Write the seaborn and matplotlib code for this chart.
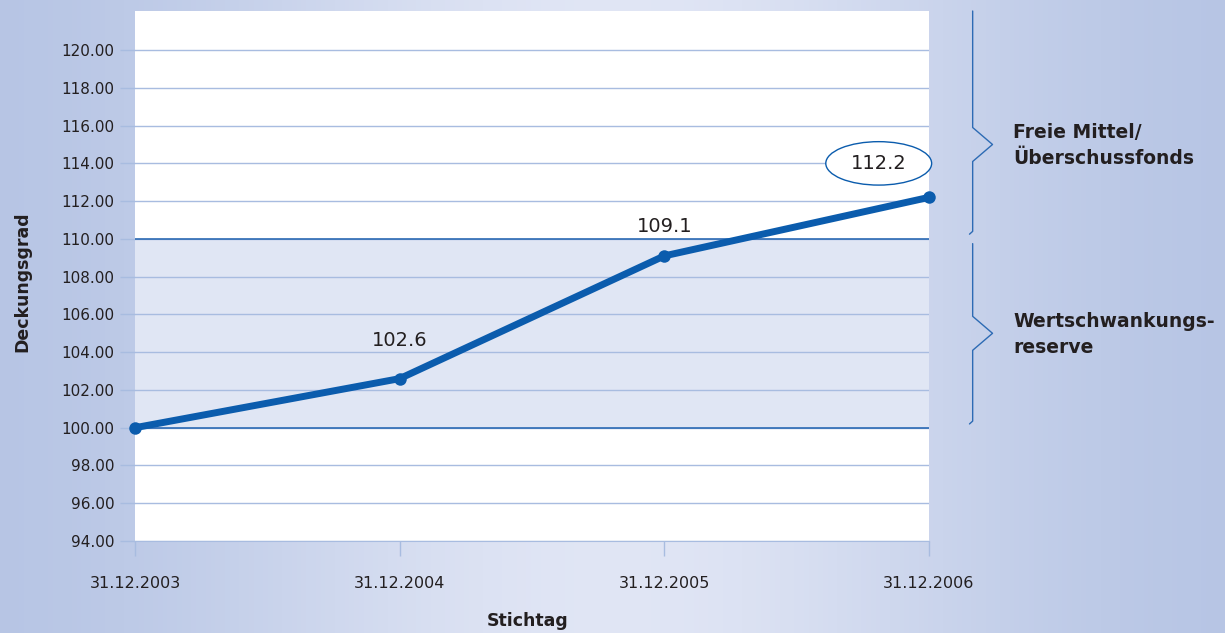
import numpy as np
import pandas as pd
import matplotlib.pyplot as plt
import matplotlib.transforms as mtransforms
from matplotlib.patches import Ellipse
import seaborn as sns

# -------------------
# Data
# -------------------
stichtage = ["31.12.2003", "31.12.2004", "31.12.2005", "31.12.2006"]
deckungsgrad = [100.0, 102.6, 109.1, 112.2]
y_ticks = [94, 96, 98, 100, 102, 104, 106, 108, 110, 112, 114, 116, 118, 120]
reserve_band = [100, 110]
band_labels = ["Freie Mittel/\nÜberschussfonds", "Wertschwankungs-\nreserve"]

df = pd.DataFrame({"pos": range(len(stichtage)), "stichtag": stichtage, "wert": deckungsgrad})

# -------------------
# Style
# -------------------
sns.set_style("white")
plt.rcParams["font.family"] = ["DejaVu Sans"]

LINE_BLUE = "#0b5cad"
GRID_BLUE = "#a8bce0"
BAND_FILL = "#e0e6f4"
BAND_EDGE = "#2d6bb4"
TEXT = "#231f20"

fig = plt.figure(figsize=(12.25, 6.33), dpi=100)

# background gradient (dark - light - dark)
bg = fig.add_axes([0, 0, 1, 1], zorder=-10)
t = np.linspace(0, 1, 256)
shade = np.exp(-((t - 0.5) / 0.33) ** 2)
left = np.array([0.70, 0.76, 0.89])
mid = np.array([0.88, 0.90, 0.96])
grad = left[None, :] + (mid - left)[None, :] * shade[:, None]
bg.imshow(grad[None, :, :], aspect="auto", extent=[0, 1, 0, 1])
bg.set_axis_off()

ax = fig.add_axes([135 / 1225, 92 / 633, 794 / 1225, 530 / 633])
ax.set_facecolor("white")

ax.axhspan(reserve_band[0], reserve_band[1], color=BAND_FILL, zorder=0, lw=0)
for yv in y_ticks:
    ax.axhline(yv, color=GRID_BLUE, lw=1.0, zorder=1)
for yv in reserve_band:
    ax.axhline(yv, color=BAND_EDGE, lw=1.2, zorder=2)

sns.lineplot(data=df, x="pos", y="wert", ax=ax, color=LINE_BLUE, lw=5,
             marker="o", markersize=9, markeredgewidth=0, zorder=5, clip_on=False)

ax.set_xlim(0, len(stichtage) - 1)
ax.set_ylim(94, 122.07)
ax.set_yticks(y_ticks)
ax.set_yticklabels([f"{v:.2f}" for v in y_ticks], fontsize=11, color=TEXT)
ax.set_xticks(df["pos"])
ax.set_xticklabels(stichtage, fontsize=11.5, color=TEXT)
ax.tick_params(axis="y", length=11, color=GRID_BLUE, width=1, pad=4, left=True)
ax.tick_params(axis="x", length=11, color=GRID_BLUE, width=1, pad=14, bottom=True)
for s in ["top", "right", "left"]:
    ax.spines[s].set_visible(False)
ax.spines["bottom"].set_color(GRID_BLUE)

ax.set_xlabel("Stichtag", fontsize=12.5, fontweight="bold", color=TEXT)
ax.set_ylabel("Deckungsgrad", fontsize=12.5, fontweight="bold", color=TEXT)
ax.xaxis.set_label_coords(0.5 - 0.005, -0.134)
ax.yaxis.set_label_coords(-0.13, 0.49)

# value labels
for i, (xv, yv) in enumerate(zip(df["pos"], df["wert"])):
    if i == 0:
        continue
    if i == len(df) - 1:
        ex, ey = xv - 0.19, yv + 1.8
        ax.add_patch(Ellipse((ex, ey), 0.40, 2.3, facecolor="white",
                             edgecolor=LINE_BLUE, lw=1.0, zorder=6, clip_on=False))
        ax.text(ex, ey, f"{yv:.1f}", ha="center", va="center", fontsize=14,
                color=TEXT, zorder=7)
    else:
        ax.text(xv, yv + (2.0 if i == 1 else 1.55), f"{yv:.1f}", ha="center",
                va="center", fontsize=14, color=TEXT, zorder=7)

# braces on the right
trans = mtransforms.blended_transform_factory(ax.transAxes, ax.transData)
bx, tip = 1.055, 1.08
spans = [(122.07, 110.25, 115), (109.75, 100.2, 105)]
for (top, bot, midy), lab in zip(spans, band_labels):
    xs = [bx, bx, tip, bx, bx, bx - 0.004]
    ys = [top, midy + 0.9, midy, midy - 0.9, bot + 0.15, bot]
    ax.plot(xs, ys, color=BAND_EDGE, lw=1.0, transform=trans, clip_on=False)
    ax.text(1.106, midy - 0.05, lab, transform=trans, ha="left", va="center",
            fontsize=13.5, fontweight="bold", color=TEXT, linespacing=1.45)

fig.savefig("out.png", dpi=100)
